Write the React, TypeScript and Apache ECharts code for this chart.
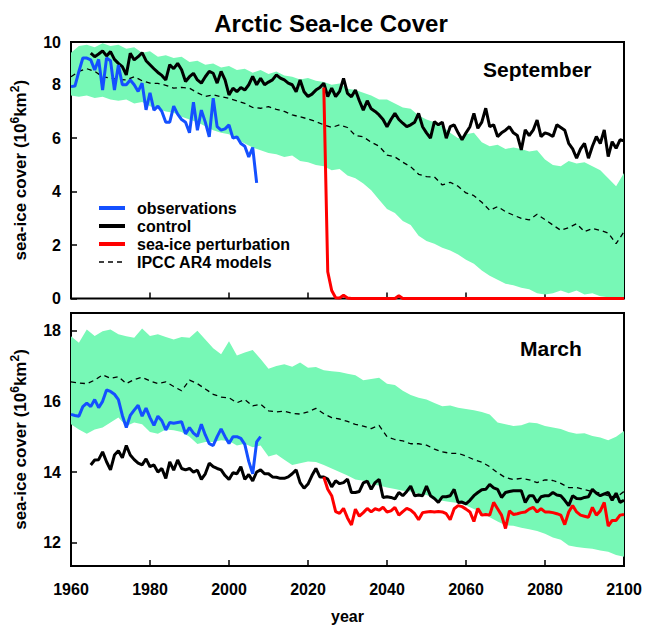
import React, { useEffect, useRef } from "react";
import * as echarts from "echarts";

const FONT = "'Liberation Sans', Arial, Helvetica, sans-serif";
const GREEN = "#77f8b6";
const BLUE = "#1450ff";
const RED = "#ff0000";
const BLACK = "#000000";

// ---------- axis ticks ----------
const yearTicks = [1960, 1980, 2000, 2020, 2040, 2060, 2080, 2100];
const sepTickLabels = ["0", "2", "4", "6", "8", "10"];

// ---------- September (top panel) ----------
const sepObsStart = 1960;
const sepObs = [
  7.93, 7.95, 8.5, 9.0, 9.0, 8.93, 8.55, 8.95, 7.8, 9.0,
  8.9, 7.8, 8.74, 8.0, 8.0, 8.18, 8.0, 7.75, 8.06, 7.06,
  7.7, 7.05, 7.2, 7.0, 6.6, 6.6, 7.2, 6.9, 6.7, 6.6,
  6.2, 7.35, 6.3, 7.05, 6.6, 6.05, 7.5, 6.43, 6.3, 6.35,
  6.5, 6.0, 6.05, 5.8, 5.7, 5.3, 5.65, 4.33,
];
const sepControlStart = 1965;
const sepControl = [
  9.18, 9.05, 9.15, 9.27, 9.08, 9.24, 8.95, 8.8, 8.68, 8.37,
  9.18, 8.93, 9.05, 9.2, 8.9, 8.75, 8.6, 8.46, 8.35, 8.18,
  8.75, 8.6, 8.8, 8.56, 8.12, 8.3, 8.43, 8.18, 8.06, 8.3,
  8.5, 8.43, 8.06, 8.5, 8.18, 7.62, 7.87, 7.74, 7.9, 7.8,
  8.0, 8.31, 8.0, 8.24, 8.0, 8.1, 8.18, 8.37, 8.25, 8.18,
  8.06, 8.0, 7.74, 8.18, 7.74, 7.56, 7.65, 7.8, 7.9, 8.06,
  7.56, 7.87, 7.56, 7.75, 8.24, 7.68, 7.55, 7.8, 7.4, 7.05,
  7.4, 7.1, 7.0, 6.87, 6.7, 6.43, 6.7, 6.93, 6.7, 6.56,
  6.43, 6.5, 6.6, 6.93, 6.43, 6.2, 6.0, 6.62, 6.5, 6.6,
  6.0, 6.43, 6.5, 6.2, 5.94, 6.2, 6.43, 6.93, 6.37, 6.6,
  7.12, 6.43, 6.5, 6.06, 6.2, 6.3, 6.43, 6.2, 6.1, 5.56,
  6.31, 6.1, 6.3, 6.68, 6.06, 6.2, 6.15, 6.06, 6.5, 6.4,
  6.3, 5.81, 5.6, 5.25, 5.6, 5.81, 5.25, 5.7, 6.06, 5.8,
  6.31, 5.31, 5.87, 5.62, 5.94, 5.9,
];
const sepPertStart = 2024;
const sepPert = [
  7.9, 1.0, 0.3, 0.03, 0.02, 0.12, 0.02, 0, 0, 0,
  0, 0, 0, 0, 0, 0, 0, 0, 0, 0.1,
  0, 0, 0, 0, 0, 0, 0, 0, 0, 0,
  0, 0, 0, 0, 0, 0, 0, 0, 0, 0,
  0, 0, 0, 0, 0, 0, 0, 0, 0, 0,
  0, 0, 0, 0, 0, 0, 0, 0, 0, 0,
  0, 0, 0, 0, 0, 0, 0, 0, 0, 0,
  0, 0, 0, 0, 0, 0, 0,
];
// IPCC AR4 models: ensemble mean and spread, every 2 years from 1960
const modelStart = 1960;
const modelStep = 2;
const sepMean = [
  8.3, 8.5, 8.6, 8.5, 8.3, 8.25, 8.2, 8.18, 8.3, 8.15,
  8.06, 8.05, 7.98, 7.87, 7.9, 7.87, 7.7, 7.56, 7.62, 7.55,
  7.49, 7.4, 7.3, 7.15, 7.12, 7.18, 7.08, 7.0, 6.87, 6.8,
  6.72, 6.62, 6.5, 6.4, 6.5, 6.4, 6.1, 6.05, 5.85, 5.7,
  5.37, 5.3, 5.1, 4.93, 4.65, 4.56, 4.55, 4.25, 4.35, 4.2,
  3.95, 3.85, 3.6, 3.3, 3.44, 3.25, 3.12, 3.0, 2.94, 3.15,
  2.95, 2.75, 2.55, 2.65, 2.8, 2.5, 2.62, 2.55, 2.45, 2.05,
  2.5,
];
const sepUpper = [
  9.2, 9.45, 9.5, 9.4, 9.55, 9.45, 9.5, 9.35, 9.4, 9.2,
  9.25, 9.05, 9.1, 9.0, 9.05, 8.85, 8.9, 8.75, 8.8, 8.65,
  8.7, 8.55, 8.6, 8.45, 8.55, 8.4, 8.5, 8.35, 8.3, 8.2,
  8.25, 8.15, 8.1, 8.0, 8.05, 7.85, 7.8, 7.7, 7.6, 7.45,
  7.45, 7.3, 7.15, 7.1, 6.85, 6.7, 6.6, 6.45, 6.2, 6.0,
  6.15, 6.2, 5.85, 5.7, 5.75, 5.6, 5.65, 5.6, 5.5, 5.55,
  5.2, 5.0, 4.95, 5.15, 5.05, 5.1, 4.95, 4.8, 4.5, 4.2,
  4.7,
];
const sepLower = [
  7.6, 7.55, 7.6, 7.5, 7.55, 7.45, 7.4, 7.45, 7.3, 7.35,
  7.2, 7.1, 7.0, 6.95, 6.8, 6.7, 6.6, 6.45, 6.3, 6.2,
  6.15, 5.95, 5.8, 5.65, 5.55, 5.45, 5.4, 5.3, 5.35, 5.15,
  5.1, 5.0, 4.95, 4.8, 4.85, 4.6, 4.5, 4.3, 4.05, 3.7,
  3.35, 3.2, 2.9, 2.75, 2.35, 2.15, 2.05, 1.9, 1.8, 1.65,
  1.45, 1.3, 1.05, 0.85, 0.7, 0.55, 0.5, 0.4, 0.35, 0.2,
  0.15, 0.2, 0.3, 0.2, 0.3, 0.15, 0.2, 0.08, 0.05, 0.02,
  0.0,
];

// ---------- March (bottom panel) ----------
const marObsStart = 1960;
const marObs = [
  15.63, 15.6, 15.58, 15.85, 15.95, 15.85, 16.05, 15.82, 16.0, 16.32,
  16.28, 16.2, 16.05, 15.6, 15.26, 15.6, 15.75, 15.89, 15.58, 15.81,
  15.54, 15.32, 15.58, 15.45, 15.19, 15.4, 15.38, 15.4, 15.42, 15.08,
  15.26, 15.1, 15.01, 15.35, 15.05, 14.8, 14.75, 15.0, 15.22, 15.0,
  14.81, 15.0, 15.0, 14.95, 14.78, 14.3, 13.95, 14.85, 15.0,
];
const marControlStart = 1965;
const marControl = [
  14.2, 14.34, 14.35, 14.57, 14.29, 14.06, 14.48, 14.6, 14.4, 14.75,
  14.48, 14.35, 14.25, 14.2, 14.37, 14.15, 14.2, 14.0, 14.1, 13.82,
  14.29, 14.05, 14.34, 14.1, 14.06, 14.1, 14.0, 14.05, 13.79, 13.95,
  14.25, 14.15, 14.1, 14.06, 13.9, 13.79, 13.98, 13.95, 14.15, 13.79,
  13.93, 13.75, 14.0, 14.06, 13.95, 13.95, 13.86, 13.85, 13.82, 13.82,
  13.86, 13.95, 14.06, 13.7, 13.54, 13.66, 13.9, 14.1, 13.86, 13.86,
  13.8, 13.58, 13.75, 13.67, 13.7, 13.8, 13.42, 13.42, 13.45, 13.69,
  13.74, 13.51, 13.7, 13.79, 13.28, 13.3, 13.28, 13.24, 13.42, 13.33,
  13.45, 13.6, 13.33, 13.35, 13.33, 13.6, 13.33, 13.25, 13.14, 13.3,
  13.3, 13.33, 13.51, 13.14, 13.15, 13.1, 13.2, 13.33, 13.42, 13.5,
  13.51, 13.65, 13.55, 13.51, 13.28, 13.42, 13.45, 13.47, 13.47, 13.47,
  13.14, 13.33, 13.33, 13.14, 13.3, 13.33, 13.33, 13.42, 13.35, 13.33,
  13.2, 13.05, 13.33, 13.25, 13.24, 13.28, 13.3, 13.51, 13.4, 13.33,
  13.38, 13.42, 13.2, 13.4, 13.14, 13.2,
];
const marPertStart = 2024;
const marPert = [
  13.86, 13.51, 13.33, 12.88, 12.83, 12.97, 12.7, 12.5, 12.95, 12.75,
  12.85, 12.97, 12.87, 12.96, 12.92, 13.0, 12.87, 12.9, 13.0, 12.78,
  12.88, 12.97, 12.92, 12.82, 12.65, 12.85, 12.87, 12.88, 12.87, 12.88,
  12.87, 12.82, 12.65, 12.96, 13.05, 13.02, 12.95, 12.87, 12.6, 12.97,
  12.78, 12.8, 12.78, 13.14, 12.96, 12.78, 12.4, 12.9, 12.8, 12.82,
  12.85, 12.87, 12.95, 13.0, 12.87, 12.96, 12.87, 12.87, 12.85, 12.82,
  12.78, 12.51, 12.87, 13.05, 12.87, 12.78, 12.75, 12.72, 13.0, 12.78,
  12.9, 13.14, 12.47, 12.63, 12.63, 12.78, 12.8,
];
const marMean = [
  16.55, 16.52, 16.5, 16.6, 16.75, 16.65, 16.7, 16.5, 16.62, 16.68,
  16.58, 16.5, 16.55, 16.42, 16.3, 16.6, 16.5, 16.35, 16.2, 16.12,
  16.1, 15.96, 16.05, 15.87, 15.92, 15.73, 15.7, 15.72, 15.66, 15.64,
  15.7, 15.8, 15.65, 15.54, 15.5, 15.43, 15.35, 15.3, 15.23, 15.32,
  15.0, 14.92, 14.88, 14.8, 14.8, 14.76, 14.65, 14.57, 14.53, 14.53,
  14.45, 14.35, 14.28, 14.15, 13.98, 13.84, 13.79, 13.82, 13.78, 13.7,
  13.78, 13.76, 13.68, 13.56, 13.56, 13.5, 13.45, 13.4, 13.33, 13.28,
  13.45,
];
const marUpper = [
  17.84, 17.66, 18.03, 17.85, 17.98, 18.03, 17.9, 17.84, 17.8, 18.06,
  17.85, 17.9, 17.82, 17.75, 17.82, 17.8, 18.0, 17.75, 17.5, 17.33,
  17.7, 17.3, 17.38, 17.45, 17.2, 16.92, 17.0, 17.05, 16.98, 17.1,
  16.95, 16.97, 16.88, 16.85, 16.83, 16.78, 16.74, 16.6, 16.63, 16.67,
  16.5, 16.46, 16.3, 16.18, 16.1, 16.05, 15.95, 15.86, 15.88, 15.82,
  15.78, 15.75, 15.7, 15.63, 15.4, 15.35, 15.3, 15.32, 15.4, 15.38,
  15.3, 15.26, 15.22, 15.13, 15.08, 15.1, 15.02, 14.98, 14.9, 15.0,
  15.16,
];
const marLower = [
  15.35, 15.2, 15.08, 15.2, 15.26, 15.4, 15.54, 15.3, 15.4, 15.35,
  15.13, 15.08, 15.2, 15.18, 15.13, 15.0, 14.79, 14.85, 14.85, 14.9,
  14.88, 14.75, 14.8, 14.7, 14.75, 14.44, 14.5, 14.35, 14.2, 14.25,
  14.3, 14.28, 14.2, 14.1, 14.0, 13.9, 13.79, 13.75, 13.65, 13.62,
  13.56, 13.52, 13.47, 13.45, 13.38, 13.35, 13.25, 13.19, 13.15, 13.12,
  13.05, 12.95, 12.85, 12.72, 12.6, 12.49, 12.48, 12.42, 12.38, 12.33,
  12.25, 12.15, 12.08, 11.92, 11.88, 11.85, 11.83, 11.78, 11.74, 11.65,
  11.6,
];

// ---------- helpers ----------
const pairs = (start: number, step: number, vals: number[]) =>
  vals.map((v, i) => [start + i * step, v]);
const bandRows = (lower: number[], upper: number[]) =>
  lower.map((l, i) => [modelStart + i * modelStep, l, upper[i]]);

const LEGEND = ["observations", "control", "sea-ice perturbation", "IPCC AR4 models"];
const LEGEND_COLORS = [BLUE, BLACK, RED, BLACK];

function panelSeries(
  idx: number,
  lower: number[],
  upper: number[],
  mean: number[],
  ctrlStart: number,
  control: number[],
  obsStart: number,
  obs: number[],
  pertStart: number,
  pert: number[]
) {
  const common = { xAxisIndex: idx, yAxisIndex: idx, symbol: "none", silent: true };
  const rows = bandRows(lower, upper);
  return [
    {
      type: "custom",
      name: "model spread " + idx,
      xAxisIndex: idx,
      yAxisIndex: idx,
      silent: true,
      clip: true,
      data: rows,
      encode: { x: 0, y: [1, 2] },
      renderItem: (params: any, api: any) => {
        if (params.dataIndex !== 0) return null;
        const pts: number[][] = [];
        for (let i = 0; i < rows.length; i++) pts.push(api.coord([rows[i][0], rows[i][2]]));
        for (let i = rows.length - 1; i >= 0; i--) pts.push(api.coord([rows[i][0], rows[i][1]]));
        return { type: "polygon", shape: { points: pts }, style: { fill: GREEN, stroke: "none" } };
      },
    },
    {
      ...common,
      type: "line",
      name: LEGEND[3],
      data: pairs(modelStart, modelStep, mean),
      lineStyle: { color: BLACK, width: 1.3, type: [5, 4] },
      itemStyle: { color: BLACK },
    },
    {
      ...common,
      type: "line",
      name: LEGEND[1],
      data: pairs(ctrlStart, 1, control),
      lineStyle: { color: BLACK, width: 3 },
      itemStyle: { color: BLACK },
    },
    {
      ...common,
      type: "line",
      name: LEGEND[0],
      data: pairs(obsStart, 1, obs),
      lineStyle: { color: BLUE, width: 3 },
      itemStyle: { color: BLUE },
    },
    {
      ...common,
      type: "line",
      name: LEGEND[2],
      clip: false,
      data: pairs(pertStart, 1, pert),
      lineStyle: { color: RED, width: 3 },
      itemStyle: { color: RED },
    },
  ];
}

const tickLabelStyle = { fontFamily: FONT, fontSize: 16, fontWeight: "bold", color: BLACK };
const yNameStyle = {
  fontFamily: FONT,
  fontSize: 17,
  fontWeight: "bold",
  color: BLACK,
  lineHeight: 23,
  rich: {
    sup: { fontFamily: FONT, fontSize: 12, fontWeight: "bold", color: BLACK, verticalAlign: "top", lineHeight: 12 },
  },
};
const Y_NAME = "sea-ice cover (10{sup|6}km{sup|2})";

function xAxis(idx: number, showLabels: boolean) {
  return {
    type: "value",
    gridIndex: idx,
    min: yearTicks[0],
    max: yearTicks[yearTicks.length - 1],
    interval: yearTicks[1] - yearTicks[0],
    splitLine: { show: false },
    axisLine: { show: false },
    axisTick: { show: true, inside: true, length: 6, lineStyle: { color: BLACK, width: 1.5 } },
    axisLabel: { show: showLabels, margin: 15, ...tickLabelStyle, formatter: (v: number) => String(v) },
    name: showLabels ? "year" : "",
    nameLocation: "middle",
    nameGap: 42,
    nameTextStyle: { fontFamily: FONT, fontSize: 16, fontWeight: "bold", color: BLACK },
  };
}

const option = {
  animation: false,
  backgroundColor: "#ffffff",
  textStyle: { fontFamily: FONT },
  title: [
    {
      text: "Arctic Sea-Ice Cover",
      left: 331,
      top: 11,
      textAlign: "center",
      padding: 0,
      textStyle: { fontFamily: FONT, fontSize: 24, fontWeight: "bold", color: BLACK },
    },
    {
      text: "September",
      left: 483,
      top: 59,
      padding: 0,
      textStyle: { fontFamily: FONT, fontSize: 21, fontWeight: "bold", color: BLACK },
    },
    {
      text: "March",
      left: 520,
      top: 338,
      padding: 0,
      textStyle: { fontFamily: FONT, fontSize: 21, fontWeight: "bold", color: BLACK },
    },
  ],
  legend: {
    data: LEGEND.map((name, i) => ({
      name,
      lineStyle:
        i === 3
          ? { color: BLACK, width: 1.5, type: [5, 4] }
          : { color: LEGEND_COLORS[i], width: 4, type: "solid" },
    })),
    orient: "vertical",
    left: 97,
    top: 200,
    padding: 0,
    itemWidth: 26,
    itemHeight: 12,
    itemGap: 2,
    selectedMode: false,
    itemStyle: { opacity: 0 },
    textStyle: { fontFamily: FONT, fontSize: 16, fontWeight: "bold", color: BLACK, padding: [0, 0, 0, 7] },
  },
  grid: [
    { left: 71, right: 21, top: 42, height: 256.5, show: true, borderColor: BLACK, borderWidth: 2, backgroundColor: "transparent" },
    { left: 71, right: 21, top: 313, height: 259, show: true, borderColor: BLACK, borderWidth: 2, backgroundColor: "transparent" },
  ],
  xAxis: [xAxis(0, false), xAxis(1, true)],
  yAxis: [
    {
      type: "value",
      gridIndex: 0,
      min: 0,
      max: 9.6,
      interval: 2,
      splitLine: { show: false },
      axisLine: { show: false },
      axisTick: { show: true, inside: true, length: 6, lineStyle: { color: BLACK, width: 1.5 } },
      axisLabel: {
        margin: 10,
        showMinLabel: true,
        showMaxLabel: true,
        ...tickLabelStyle,
        formatter: (v: number, i: number) => sepTickLabels[i] ?? String(v),
      },
      name: Y_NAME,
      nameLocation: "middle",
      nameRotate: 90,
      nameGap: 37,
      nameTextStyle: yNameStyle,
    },
    {
      type: "value",
      gridIndex: 1,
      min: 11.34,
      max: 18.5,
      minInterval: 2,
      maxInterval: 2,
      splitLine: { show: false },
      axisLine: { show: false },
      axisTick: { show: true, inside: true, length: 6, lineStyle: { color: BLACK, width: 1.5 } },
      axisLabel: { margin: 10, showMinLabel: false, showMaxLabel: false, ...tickLabelStyle },
      name: Y_NAME,
      nameLocation: "middle",
      nameRotate: 90,
      nameGap: 37,
      nameTextStyle: yNameStyle,
    },
  ],
  series: [
    ...panelSeries(0, sepLower, sepUpper, sepMean, sepControlStart, sepControl, sepObsStart, sepObs, sepPertStart, sepPert),
    ...panelSeries(1, marLower, marUpper, marMean, marControlStart, marControl, marObsStart, marObs, marPertStart, marPert),
  ],
};

export default function App() {
  const ref = useRef<HTMLDivElement>(null);
  useEffect(() => {
    const chart = echarts.init(ref.current as HTMLDivElement, null, { renderer: "svg" });
    chart.setOption(option as any);
    return () => chart.dispose();
  }, []);
  return (
    <div
      ref={ref}
      style={{ position: "absolute", left: 0, top: 0, width: 645, height: 625, background: "#fff" }}
    />
  );
}
